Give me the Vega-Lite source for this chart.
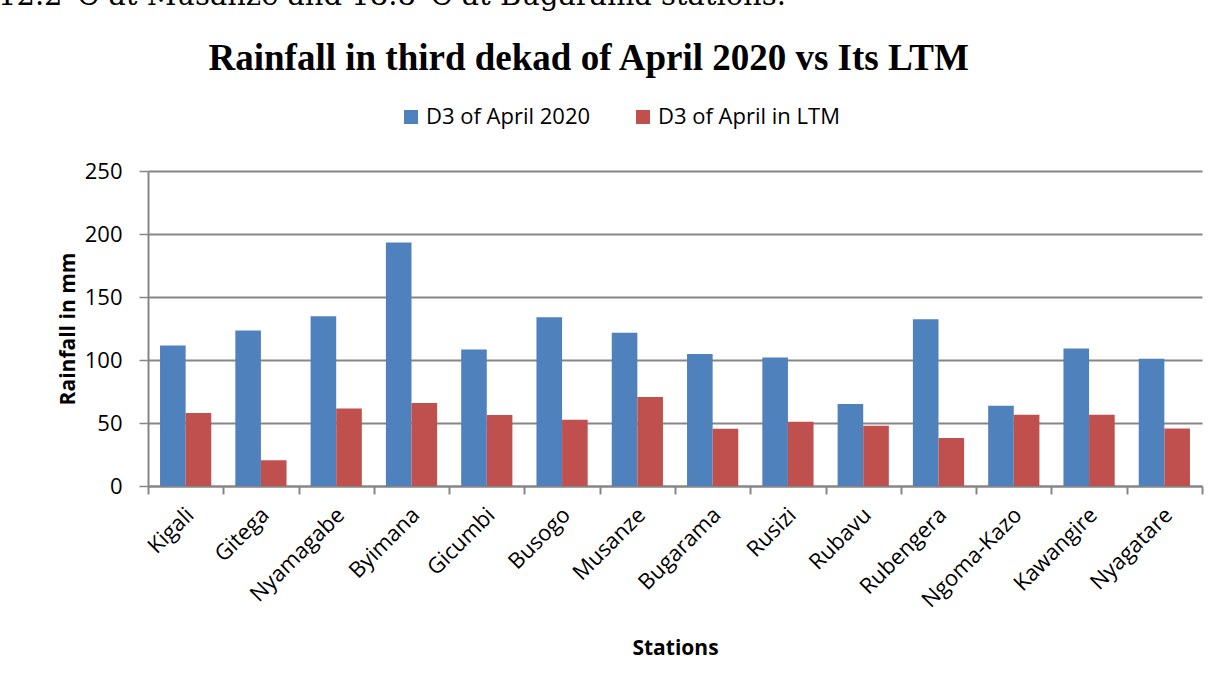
{
  "$schema": "https://vega.github.io/schema/vega-lite/v6.json",
  "width": 1054,
  "height": 315,
  "autosize": {"type": "none"},
  "padding": {"left": 148, "top": 171, "right": 21, "bottom": 203},
  "background": "white",
  "title": {
    "text": "12.2°C at Musanze and 18.8°C at Bugarama stations.",
    "font": "DejaVu Serif",
    "fontSize": 29,
    "fontWeight": "normal",
    "color": "black",
    "anchor": "start",
    "frame": "group",
    "dx": -150,
    "offset": 28
  },
  "data": {
    "values": [
      {"station": "Kigali", "series": "D3 of April 2020", "value": 111.5},
      {"station": "Kigali", "series": "D3 of April in LTM", "value": 57.9},
      {"station": "Gitega", "series": "D3 of April 2020", "value": 123.4},
      {"station": "Gitega", "series": "D3 of April in LTM", "value": 20.4},
      {"station": "Nyamagabe", "series": "D3 of April 2020", "value": 134.8},
      {"station": "Nyamagabe", "series": "D3 of April in LTM", "value": 61.6},
      {"station": "Byimana", "series": "D3 of April 2020", "value": 193.2},
      {"station": "Byimana", "series": "D3 of April in LTM", "value": 65.8},
      {"station": "Gicumbi", "series": "D3 of April 2020", "value": 108.3},
      {"station": "Gicumbi", "series": "D3 of April in LTM", "value": 56.3},
      {"station": "Busogo", "series": "D3 of April 2020", "value": 134.0},
      {"station": "Busogo", "series": "D3 of April in LTM", "value": 52.5},
      {"station": "Musanze", "series": "D3 of April 2020", "value": 121.6},
      {"station": "Musanze", "series": "D3 of April in LTM", "value": 70.6},
      {"station": "Bugarama", "series": "D3 of April 2020", "value": 104.8},
      {"station": "Bugarama", "series": "D3 of April in LTM", "value": 45.4},
      {"station": "Rusizi", "series": "D3 of April 2020", "value": 101.9},
      {"station": "Rusizi", "series": "D3 of April in LTM", "value": 51.0},
      {"station": "Rubavu", "series": "D3 of April 2020", "value": 65.0},
      {"station": "Rubavu", "series": "D3 of April in LTM", "value": 47.8},
      {"station": "Rubengera", "series": "D3 of April 2020", "value": 132.4},
      {"station": "Rubengera", "series": "D3 of April in LTM", "value": 38.0},
      {"station": "Ngoma-Kazo", "series": "D3 of April 2020", "value": 63.7},
      {"station": "Ngoma-Kazo", "series": "D3 of April in LTM", "value": 56.5},
      {"station": "Kawangire", "series": "D3 of April 2020", "value": 109.1},
      {"station": "Kawangire", "series": "D3 of April in LTM", "value": 56.5},
      {"station": "Nyagatare", "series": "D3 of April 2020", "value": 100.9},
      {"station": "Nyagatare", "series": "D3 of April in LTM", "value": 45.6}
    ]
  },
  "layer": [
    {
      "mark": {"type": "bar"},
      "encoding": {
        "x": {
          "field": "station",
          "type": "nominal",
          "sort": null,
          "scale": {"paddingInner": 0, "paddingOuter": 0},
          "axis": {
            "title": "Stations",
            "titleFont": "Open Sans",
            "titleFontSize": 21,
            "titleFontWeight": "bold",
            "titleColor": "black",
            "titlePadding": 26,
            "labelFont": "Open Sans",
            "labelFontSize": 22,
            "labelColor": "black",
            "labelAngle": -45,
            "labelAlign": "right",
            "labelBaseline": "middle",
            "labelPadding": 17,
            "labelOffset": 4,
            "labelLimit": 300,
            "tickBand": "extent",
            "tickColor": "#868686",
            "tickWidth": 2,
            "tickSize": 8,
            "domainColor": "#868686",
            "domainWidth": 2,
            "grid": false
          }
        },
        "xOffset": {
          "field": "series",
          "type": "nominal",
          "scale": {"paddingInner": 0, "paddingOuter": 0.47}
        },
        "y": {
          "field": "value",
          "type": "quantitative",
          "scale": {"domain": [0, 250], "nice": false},
          "axis": {
            "values": [0, 50, 100, 150, 200, 250],
            "title": "Rainfall in mm",
            "titleFont": "Open Sans",
            "titleFontSize": 21,
            "titleFontWeight": "bold",
            "titleColor": "black",
            "titlePadding": 6,
            "labelFont": "Open Sans",
            "labelFontSize": 22,
            "labelColor": "black",
            "labelPadding": 17,
            "tickColor": "#868686",
            "tickWidth": 1.5,
            "tickSize": 9,
            "domainColor": "#868686",
            "domainWidth": 2,
            "grid": true,
            "gridColor": "#868686",
            "gridWidth": 2
          }
        },
        "color": {
          "field": "series",
          "type": "nominal",
          "scale": {"domain": ["D3 of April 2020", "D3 of April in LTM"], "range": ["#4F81BD", "#C0504D"]},
          "legend": {
            "title": null,
            "orient": "none",
            "direction": "horizontal",
            "legendX": 252,
            "legendY": -65,
            "symbolType": "square",
            "symbolSize": 196,
            "symbolStrokeWidth": 0,
            "symbolOpacity": 1,
            "labelFont": "Open Sans",
            "labelFontSize": 22,
            "labelColor": "black",
            "labelOffset": 4,
            "labelLimit": 400,
            "columnPadding": 41
          }
        }
      }
    },
    {
      "mark": {"type": "bar", "opacity": 0},
      "encoding": {
        "x": {
          "field": "station",
          "type": "nominal",
          "sort": null,
          "axis": {
            "orient": "top",
            "labels": false,
            "ticks": false,
            "domain": false,
            "grid": false,
            "title": "Rainfall in third dekad of April 2020 vs Its LTM",
            "titleFont": "Liberation Serif",
            "titleFontSize": 37,
            "titleFontWeight": "bold",
            "titleColor": "black",
            "titleAnchor": "start",
            "titleAlign": "left",
            "titleBaseline": "alphabetic",
            "titleLimit": 1000,
            "titleX": 60,
            "titleY": -102
          }
        },
        "y": {"field": "value", "type": "quantitative"}
      }
    }
  ],
  "resolve": {"axis": {"x": "independent"}},
  "config": {"view": {"stroke": null}}
}
